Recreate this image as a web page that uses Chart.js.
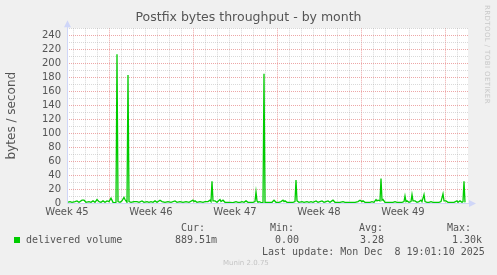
<!DOCTYPE html>
<html>
<head>
<meta charset="utf-8">
<script src="https://cdn.jsdelivr.net/npm/chart.js@4/dist/chart.umd.min.js"></script>
<style>
  html, body { margin: 0; padding: 0; background: #f0f0f0; }
  #wrap { position: relative; width: 497px; height: 275px; overflow: hidden; }
  #c { position: absolute; left: 0; top: 0; }
  .t { position: absolute; font-family: "DejaVu Sans Mono", monospace; font-size: 10px; color: #555; white-space: pre; line-height: 12px; }
  .sw { position: absolute; left: 14px; top: 237px; width: 6px; height: 6px; background: #00cc00; }
  .munin { position: absolute; left: 223px; top: 259px; font-family: "DejaVu Sans", sans-serif; font-size: 7px; color: #c4c4c4; }
  .rrd { position: absolute; left: 483px; top: 5px; font-family: "DejaVu Sans", sans-serif; font-size: 7px; color: #c8c8c8;
         writing-mode: vertical-rl; letter-spacing: 0.4px; }
</style>
</head>
<body>
<div id="wrap">
  <canvas id="c" width="497" height="275"></canvas>
  <div class="rrd">RRDTOOL / TOBI OETIKER</div>
  <div class="sw"></div>
  <div class="t" style="left:26px; top:234px;">delivered volume</div>
  <div class="t" style="left:181px; top:222px;">Cur:</div>
  <div class="t" style="left:175px; top:234px;">889.51m</div>
  <div class="t" style="left:270px; top:222px;">Min:</div>
  <div class="t" style="left:275px; top:234px;">0.00</div>
  <div class="t" style="left:359px; top:222px;">Avg:</div>
  <div class="t" style="left:360px; top:234px;">3.28</div>
  <div class="t" style="left:447px; top:222px;">Max:</div>
  <div class="t" style="left:452px; top:234px;">1.30k</div>
  <div class="t" style="left:262px; top:246px;">Last update: Mon Dec  8 19:01:10 2025</div>
  <div class="munin">Munin 2.0.75</div>
</div>
<script>
// hours since left edge of the graph (2h per rrd step)
const hours = [0, 6, 10, 16, 20, 24, 30, 34, 38, 44, 48, 52, 56, 60, 64, 68, 72, 76, 80, 84,
  88, 92, 96, 98, 100, 102, 106, 110, 114, 116, 118, 120, 122, 124, 128, 134, 140, 144, 150, 154,
  160, 164, 168, 172, 176, 180, 186, 190, 196, 202, 208, 216, 220, 226, 232, 238, 244, 252, 254, 256,
  260, 266, 272, 276, 282, 286, 288, 290, 292, 296, 300, 306, 308, 312, 316, 322, 326, 332, 338, 342,
  346, 350, 354, 358, 362, 366, 372, 376, 378, 380, 382, 384, 388, 392, 394, 396, 400, 406, 410, 414,
  418, 424, 428, 432, 434, 436, 440, 446, 452, 456, 458, 460, 464, 470, 474, 480, 484, 488, 492, 498,
  502, 506, 510, 514, 518, 522, 526, 530, 532, 536, 542, 546, 552, 556, 562, 566, 572, 576, 582, 586,
  590, 592, 596, 602, 606, 610, 614, 618, 620, 622, 626, 628, 630, 632, 636, 642, 648, 652, 656, 660,
  666, 670, 674, 676, 678, 680, 684, 688, 690, 692, 696, 700, 704, 708, 710, 714, 716, 720, 724, 728,
  732, 738, 744, 748, 752, 754, 758, 762, 766, 770, 774, 780, 782, 786, 790, 792, 794, 796];

// delivered volume, bytes / second
const delivered = [1, 2, 1, 2, 3, 1, 4, 4, 1, 2, 1, 3, 1, 5, 2, 1, 3, 1, 3, 2,
  7, 1, 0.5, 1, 213, 2, 1, 3, 8, 5, 3, 1, 183, 2, 1, 2, 2, 1, 3, 1,
  2, 1, 2, 1, 3, 1, 4, 2, 1, 2, 1, 3, 1, 2, 1, 2, 1, 4, 2, 3,
  1, 2, 1, 2, 2, 4, 2, 31, 3, 3, 1, 5, 2, 4, 1, 1, 1, 0.5, 2, 1,
  1, 2, 1, 3, 1, 1, 1, 2, 16, 3, 1, 2, 1, 0.5, 185, 1, 1, 1, 1, 4,
  1, 1, 2, 4, 2, 3, 1, 1, 1, 2, 33, 3, 1, 2, 1, 2, 1, 2, 1, 3,
  1, 2, 3, 1, 2, 3, 1, 3, 4, 1, 1, 1, 2, 1, 1, 1, 1, 1, 2, 4,
  2, 3, 1, 1, 1, 2, 1, 5, 3, 4, 3, 35, 4, 5, 1, 1, 1, 1, 2, 1,
  1, 1, 2, 10, 2, 3, 1, 2, 12, 3, 3, 1, 2, 4, 2, 12, 2, 1, 1, 2,
  1, 1, 1, 2, 13, 3, 3, 1, 1, 1, 1, 3, 1, 3, 1, 2, 31, 0.89];

const weekLabels = ['Week 45', 'Week 46', 'Week 47', 'Week 48', 'Week 49'];
const weekLabelHours = [0, 168, 336, 504, 672];
const weekStartHours = [84, 252, 420, 588, 756];
const dayHours = Array.from({ length: 33 }, (_, i) => 12 + i * 24);
const yTicks = Array.from({ length: 26 }, (_, i) => i * 10);

const AXIS = '#cfd6f8';
const MGRID = 'rgba(228, 120, 120, 0.65)';
const GRID = 'rgba(160, 160, 160, 0.4)';

Chart.defaults.font.family = 'DejaVu Sans';

const rrdLook = {
  id: 'rrdLook',
  beforeDraw(chart) {
    const { ctx, chartArea: a } = chart;
    ctx.save();
    ctx.fillStyle = '#ffffff';
    ctx.fillRect(a.left, a.top, a.right - a.left, a.bottom - a.top);
    ctx.restore();
  },
  afterDraw(chart) {
    const { ctx, chartArea: a } = chart;
    const x0 = Math.round(a.left) + 0.5, y0 = Math.round(a.bottom) + 0.5;
    ctx.save();
    ctx.strokeStyle = AXIS;
    ctx.fillStyle = AXIS;
    ctx.lineWidth = 1;
    ctx.beginPath();
    ctx.moveTo(x0, y0); ctx.lineTo(x0, a.top - 4);
    ctx.moveTo(x0, y0); ctx.lineTo(a.right + 4, y0);
    ctx.stroke();
    // arrow heads
    ctx.beginPath();
    ctx.moveTo(x0, a.top - 8); ctx.lineTo(x0 - 3.5, a.top - 1); ctx.lineTo(x0 + 3.5, a.top - 1); ctx.closePath();
    ctx.fill();
    ctx.beginPath();
    ctx.moveTo(a.right + 8, y0); ctx.lineTo(a.right + 1, y0 - 3.5); ctx.lineTo(a.right + 1, y0 + 3.5); ctx.closePath();
    ctx.fill();
    ctx.restore();
  }
};

new Chart(document.getElementById('c'), {
  type: 'line',
  data: {
    datasets: [{
      label: 'delivered volume',
      data: hours.map((h, i) => ({ x: h, y: delivered[i] })),
      borderColor: '#00cc00',
      borderWidth: 1.3,
      pointRadius: 0,
      tension: 0,
      fill: false
    }]
  },
  options: {
    responsive: false,
    animation: false,
    layout: { padding: 0 },
    plugins: {
      legend: { display: false },
      tooltip: { enabled: false },
      title: {
        display: true,
        text: 'Postfix bytes throughput - by month',
        color: '#555',
        font: { size: 12.5, weight: 'normal' },
        padding: { top: 10, bottom: 3.3 }
      }
    },
    scales: {
      x: {
        type: 'linear', position: 'bottom', min: 0, max: 802, weight: 0,
        afterBuildTicks: s => { s.ticks = dayHours.map(v => ({ value: v })); },
        ticks: { display: false },
        grid: {
          drawTicks: false,
          color: c => (c.tick && weekStartHours.includes(c.tick.value)) ? MGRID : GRID
        },
        border: { display: false, dash: [1, 1] },
        afterFit: s => { s.height = 0; }
      },
      xLab: {
        type: 'linear', position: 'bottom', min: 0, max: 802, weight: 1,
        afterBuildTicks: s => { s.ticks = weekLabelHours.map(v => ({ value: v })); },
        ticks: {
          autoSkip: false, maxRotation: 0, padding: 3, color: '#555', font: { size: 10 },
          callback: v => weekLabels[weekLabelHours.indexOf(v)]
        },
        grid: { display: false, drawTicks: false },
        border: { display: false },
        afterFit: s => { s.height = 72; }
      },
      y: {
        min: 0, max: 250,
        afterBuildTicks: s => { s.ticks = yTicks.map(v => ({ value: v })); },
        ticks: {
          autoSkip: false, padding: 6, color: '#555', font: { size: 10 },
          callback: v => (v % 20 === 0 ? String(v) : '')
        },
        grid: {
          drawTicks: false,
          color: c => (!c.tick || c.tick.value === 0) ? 'rgba(0,0,0,0)' : (c.tick.value % 20 === 0 ? MGRID : GRID)
        },
        border: { display: false, dash: [1, 1] },
        title: {
          display: true, text: 'bytes / second', color: '#555',
          font: { size: 12 }, padding: { top: 5, bottom: 0 }
        },
        afterFit: s => { s.width = 67; }
      },
      yRight: {
        position: 'right', min: 0, max: 250,
        ticks: { display: false },
        grid: { display: false, drawTicks: false },
        border: { display: false },
        afterFit: s => { s.width = 29; }
      }
    }
  },
  plugins: [rrdLook]
});
</script>
</body>
</html>
